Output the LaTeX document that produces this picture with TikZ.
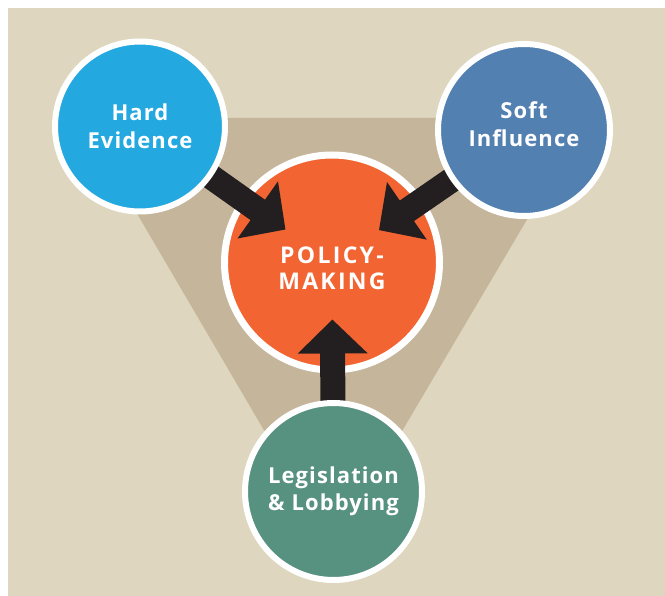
\documentclass[tikz,border=0pt]{standalone}
\usepackage{fontspec}
\setmainfont{Open Sans}
\usetikzlibrary{arrows.meta}
\definecolor{bgbeige}{HTML}{DED6BE}
\definecolor{tribeige}{HTML}{C5B59B}
\definecolor{heblue}{HTML}{24A8E0}
\definecolor{siblue}{HTML}{5280B1}
\definecolor{pmorange}{HTML}{F26532}
\definecolor{llgreen}{HTML}{57917F}
\definecolor{arrowblack}{HTML}{231F20}
\pgfdeclarelayer{bg}
\pgfdeclarelayer{pmlayer}
\pgfdeclarelayer{arrowlayer}
\pgfsetlayers{bg,pmlayer,arrowlayer,main}
\tikzset{
  bubble/.style={circle, draw=white, line width=6pt, inner sep=0pt, text=white, align=center,
    font=\fontsize{22}{27.5}\selectfont\bfseries\addfontfeatures{LetterSpace=5}},
  bigarrow/.style={draw=arrowblack, line width=25pt, -{Triangle[width=68pt,length=34pt]}, shorten >=57pt}
}
\begin{document}
\begin{tikzpicture}[x=1pt,y=-1pt]
\begin{pgfonlayer}{bg}
\useasboundingbox (0,0) rectangle (665,596);
\fill[white] (0,0) rectangle (665,596);
\fill[bgbeige] (8,8) rectangle (665,596);
\fill[tribeige] (81,118) -- (587,118) -- (333,548) -- cycle;
\end{pgfonlayer}
\begin{pgfonlayer}{pmlayer}
\node[bubble, fill=pmorange, line width=7pt, minimum size=215pt,
  font=\fontsize{23}{26}\selectfont\bfseries\addfontfeatures{LetterSpace=10}] (pm) at (332,262.5) {\rule{0pt}{28pt}POLICY-\\MAKING};
\end{pgfonlayer}
\node[bubble, fill=heblue, minimum size=170pt] (he) at (140,126.5) {Hard\\Evidence};
\node[bubble, fill=siblue, minimum size=172pt] (si) at (524,130) {Soft\\Influence\\[-16pt]\mbox{}};
\node[bubble, fill=llgreen, minimum size=177pt] (ll) at (333.5,491.5) {Legislation\\\& Lobbying};
\begin{pgfonlayer}{arrowlayer}
\draw[bigarrow] (he.center) -- (pm.center);
\draw[bigarrow] (si.center) -- (pm.center);
\draw[bigarrow] (ll.center) -- (pm.center);
\end{pgfonlayer}
\end{tikzpicture}
\end{document}
